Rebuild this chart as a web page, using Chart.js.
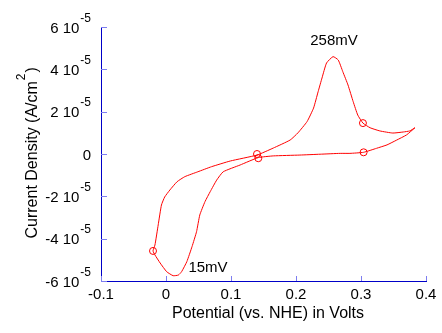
<!DOCTYPE html>
<html>
<head>
<meta charset="utf-8">
<script src="https://cdn.jsdelivr.net/npm/chart.js@4"></script>
<style>
  html, body { margin: 0; padding: 0; background: #fff; }
  canvas { display: block; }
</style>
</head>
<body>
<canvas id="cvChart" width="442" height="333"></canvas>
<script>
// potential in V vs NHE, current density in units of 1e-5 A/cm^2
const potential = [
  0.383, 0.370, 0.355, 0.340, 0.324, 0.304, 0.283, 0.268, 0.237, 0.206,
  0.165, 0.142, 0.114, 0.088, 0.078, 0.068, 0.060, 0.052, 0.047, 0.040,
  0.032, 0.024, 0.019, 0.011, 0.001, -0.009, -0.017, -0.020,
  -0.017, -0.012, -0.007, -0.002, 0.006, 0.017, 0.029, 0.049, 0.070, 0.099,
  0.140, 0.165, 0.191, 0.203, 0.217, 0.227, 0.234, 0.240, 0.247, 0.257,
  0.265, 0.272, 0.280, 0.288, 0.295, 0.303, 0.314, 0.329, 0.349, 0.365,
  0.375, 0.383
];
const current = [
  1.24, 0.90, 0.66, 0.43, 0.27, 0.08, 0.03, 0.03, -0.01, -0.05,
  -0.09, -0.17, -0.52, -0.84, -1.23, -1.78, -2.25, -2.88, -3.67, -4.38,
  -5.09, -5.56, -5.72, -5.75, -5.56, -5.15, -4.77, -4.58,
  -4.30, -3.35, -2.41, -2.03, -1.70, -1.31, -1.07, -0.84, -0.60, -0.33,
  -0.05, 0.28, 0.66, 1.00, 1.53, 2.17, 2.94, 3.59, 4.30, 4.60,
  4.44, 3.89, 3.26, 2.47, 1.84, 1.46, 1.24, 1.09, 0.99, 1.04,
  1.09, 1.24
];
const markerPotential = [-0.020, 0.140, 0.142, 0.303, 0.304];
const markerCurrent = [-4.58, 0.00, -0.20, 1.46, 0.08];

const xTicks = [-0.1, 0, 0.1, 0.2, 0.3, 0.4];
const yTicks = [-6, -4, -2, 0, 2, 4, 6];
const yExponent = '-5';

const peakLabels = ['258mV', '15mV'];
const peakPotential = [0.2585, 0.0646];
const peakCurrent = [5.34, -5.39];

const FONT = '"Liberation Sans", Arial, sans-serif';
const AXIS_COLOR = '#0000c8';
const TICK_COLOR = '#7d7df0';

const curve = potential.map((p, i) => ({ x: p, y: current[i] }));
const markers = markerPotential.map((p, i) => ({ x: p, y: markerCurrent[i] }));

// draws tick marks (inside), tick labels with superscripts, axis titles, peak labels
const axisText = {
  id: 'axisText',
  afterDraw(chart) {
    const { ctx, chartArea: a } = chart;
    const xs = chart.scales.x, ys = chart.scales.y;
    ctx.save();

    ctx.strokeStyle = TICK_COLOR;
    ctx.lineWidth = 1;
    ctx.beginPath();
    xTicks.forEach(v => {
      const px = Math.round(xs.getPixelForValue(v)) + 0.5;
      ctx.moveTo(px, a.bottom);
      ctx.lineTo(px, a.bottom - 5);
    });
    yTicks.forEach(v => {
      const py = Math.round(ys.getPixelForValue(v)) + 0.5;
      ctx.moveTo(a.left, py);
      ctx.lineTo(a.left + 6, py);
    });
    ctx.stroke();

    ctx.fillStyle = '#000';
    ctx.font = '15px ' + FONT;
    ctx.textAlign = 'center';
    ctx.textBaseline = 'middle';
    xTicks.forEach(v => {
      const label = v === 0 ? '0' : v.toFixed(1);
      ctx.fillText(label, xs.getPixelForValue(v), 295);
    });

    const right = 91;
    yTicks.forEach(v => {
      const py = ys.getPixelForValue(v);
      ctx.textAlign = 'right';
      ctx.textBaseline = 'alphabetic';
      if (v === 0) {
        ctx.font = '15px ' + FONT;
        ctx.fillText('0', right, py + 5.5);
        return;
      }
      ctx.font = '12px ' + FONT;
      const supW = ctx.measureText(yExponent).width;
      ctx.fillText(yExponent, right, py - 5.5);
      ctx.font = '15px ' + FONT;
      ctx.fillText(v + ' 10', right - supW - 1, py + 5.5);
    });

    ctx.font = '16px ' + FONT;
    ctx.textAlign = 'center';
    ctx.textBaseline = 'alphabetic';
    ctx.fillText('Potential (vs. NHE) in Volts', 268, 318);

    // rotated y title with superscript 2
    ctx.save();
    ctx.translate(36.5, 238.5);
    ctx.rotate(-Math.PI / 2);
    ctx.textAlign = 'left';
    const main = 'Current Density (A/cm';
    ctx.font = '16px ' + FONT;
    const w1 = ctx.measureText(main).width;
    ctx.fillText(main, 0, 0);
    ctx.font = '12px ' + FONT;
    const w2 = ctx.measureText('2').width;
    ctx.fillText('2', w1 + 1, -12);
    ctx.font = '16px ' + FONT;
    ctx.fillText(')', w1 + w2 + 2, 0);
    ctx.restore();

    ctx.font = '15px ' + FONT;
    ctx.textAlign = 'center';
    ctx.textBaseline = 'middle';
    peakLabels.forEach((t, i) => {
      ctx.fillText(t, xs.getPixelForValue(peakPotential[i]), ys.getPixelForValue(peakCurrent[i]));
    });

    ctx.restore();
  }
};

new Chart(document.getElementById('cvChart').getContext('2d'), {
  type: 'scatter',
  data: {
    datasets: [{
      data: curve,
      showLine: true,
      borderColor: '#ff0000',
      borderWidth: 1,
      pointRadius: 0,
      tension: 0.15,
      fill: false
    }, {
      data: markers,
      showLine: false,
      pointStyle: 'circle',
      pointRadius: 3.5,
      borderColor: '#ff0000',
      backgroundColor: 'rgba(0,0,0,0)',
      borderWidth: 1
    }]
  },
  plugins: [axisText],
  options: {
    responsive: false,
    animation: false,
    devicePixelRatio: 1,
    layout: { padding: { top: 27, right: 16, left: 0, bottom: 0 } },
    plugins: {
      legend: { display: false },
      tooltip: { enabled: false }
    },
    scales: {
      x: {
        type: 'linear',
        min: -0.1,
        max: 0.4,
        ticks: { display: false, stepSize: 0.1 },
        grid: { display: false },
        border: { display: true, color: AXIS_COLOR, width: 1 },
        afterFit: s => { s.height = 52; }
      },
      y: {
        type: 'linear',
        min: -6,
        max: 6,
        ticks: { display: false, stepSize: 2 },
        grid: { display: false },
        border: { display: true, color: AXIS_COLOR, width: 1 },
        afterFit: s => { s.width = 101; }
      }
    }
  }
});
</script>
</body>
</html>
